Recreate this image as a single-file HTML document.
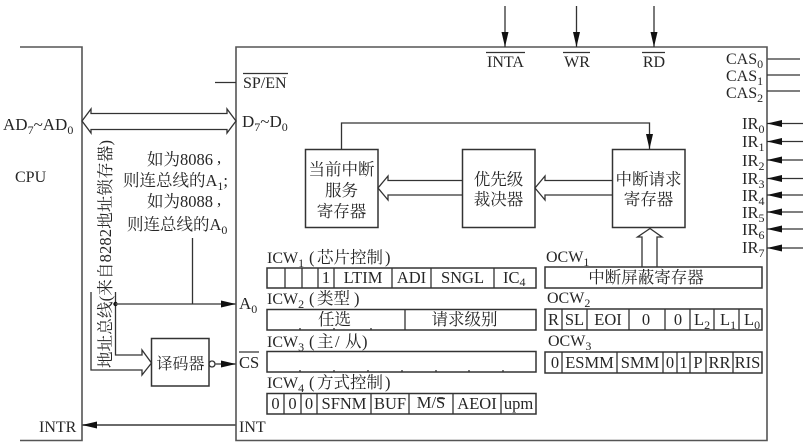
<!DOCTYPE html>
<html><head><meta charset="utf-8"><style>
html,body{margin:0;padding:0;background:#fff}
svg{display:block}
text{font-family:"Liberation Serif","Noto Serif CJK SC",serif;fill:#262626;font-size:17px}
.c{font-size:16.5px}
.t{font-size:16.5px}
.h{font-size:16.5px}
.s{font-size:12px}
.l{stroke:#333;stroke-width:1.3;fill:none}
.b{stroke:#333;stroke-width:1.5;fill:none}
.g{stroke:#555;stroke-width:1.6;fill:none}
</style></head><body>
<svg width="809" height="446" viewBox="0 0 809 446" xmlns="http://www.w3.org/2000/svg">
<defs>
<marker id="a" markerUnits="userSpaceOnUse" markerWidth="15" markerHeight="8" refX="15" refY="4" orient="auto"><path d="M0 0.500L15 4L0 7.500z" fill="#111"/></marker>
</defs>
<!-- main frames -->
<path class="g" d="M20 47H82V440.500H20"/>
<path class="g" d="M767 440.500H236V47H767Z"/>
<path class="l" d="M215 82.500H236"/>
<!-- data bus -->
<path class="l" d="M82 121L91 109V113.500H227V109L236 121L227 133V129.500H91V133Z"/>
<!-- labels left -->
<text x="3" y="130">AD<tspan class="s" dy="4">7</tspan><tspan dy="-4">~AD</tspan><tspan class="s" dy="4">0</tspan></text>
<text x="15" y="182" style="font-size:16px">CPU</text>
<text x="243" y="88" style="font-size:16px">SP/EN</text>
<path class="l" d="M243 73.500H288"/>
<text x="242" y="127">D<tspan class="s" dy="4">7</tspan><tspan dy="-4">~D</tspan><tspan class="s" dy="4">0</tspan></text>
<text x="239" y="309">A<tspan class="s" dy="4">0</tspan></text>
<text x="239" y="368" style="font-size:16.5px">CS</text>
<path class="l" d="M239 352H259"/>
<text x="239" y="432" style="font-size:16px">INT</text>
<text x="39" y="432" style="font-size:16px">INTR</text>
<!-- notes -->
<text class="c" x="147" y="165">如为8086</text><text class="c" x="217" y="163">,</text>
<text class="c" x="123" y="186">则连总线的A<tspan class="s" dy="4">1</tspan><tspan dy="-4">;</tspan></text>
<text class="c" x="147" y="207">如为8088</text><text class="c" x="217" y="205">,</text>
<text class="c" x="127" y="230">则连总线的A<tspan class="s" dy="4">0</tspan></text>
<text class="c" transform="translate(111,368) rotate(-90)" textLength="228" lengthAdjust="spacing">地址总线(来自8282地址锁存器)</text>
<!-- address bus -->
<path class="l" d="M91 292V370H142V375L151.500 363L142 350V355H115.500V292"/>
<circle cx="115.500" cy="304" r="2.200" fill="#111"/>
<path class="g" d="M115.500 304H236" marker-end="url(#a)"/>
<path class="l" d="M192.500 238V304"/>
<rect class="b" x="151.500" y="338.500" width="57.500" height="47.500"/>
<text x="156.500" y="369" style="font-size:16px">译码器</text>
<circle class="l" cx="212" cy="364" r="3"/>
<path class="g" d="M215 364H236" marker-end="url(#a)"/>
<path class="g" d="M236 425H82" marker-end="url(#a)" style="stroke-width:1.8"/>
<!-- top pins -->
<path class="l" d="M505 6V47" marker-end="url(#a)"/>
<path class="l" d="M576.500 6V47" marker-end="url(#a)"/>
<path class="l" d="M654 6V47" marker-end="url(#a)"/>
<text x="505.500" y="67" text-anchor="middle" style="font-size:16px">INTA</text><path class="l" d="M486 52.500H525"/>
<text x="577" y="67" text-anchor="middle" style="font-size:16px">WR</text><path class="l" d="M563 52.500H590"/>
<text x="654" y="67" text-anchor="middle" style="font-size:16px">RD</text><path class="l" d="M642 52.500H665"/>
<!-- CAS -->
<path class="g" d="M767 59H800"/><path class="l" d="M767 75H800M767 91H800"/>
<text x="726" y="64" style="font-size:16px">CAS<tspan class="s" dy="4">0</tspan></text>
<text x="726" y="81" style="font-size:16px">CAS<tspan class="s" dy="4">1</tspan></text>
<text x="726" y="98" style="font-size:16px">CAS<tspan class="s" dy="4">2</tspan></text>
<!-- IR -->
<g>
<path class="l" d="M803 123.500H767" marker-end="url(#a)"/>
<path class="l" d="M803 141.500H767" marker-end="url(#a)"/>
<path class="l" d="M803 160H767" marker-end="url(#a)"/>
<path class="l" d="M803 178.500H767" marker-end="url(#a)"/>
<path class="l" d="M803 195H767" marker-end="url(#a)"/>
<path class="l" d="M803 212H767" marker-end="url(#a)"/>
<path class="l" d="M803 229H767" marker-end="url(#a)"/>
<path class="l" d="M803 248H767" marker-end="url(#a)"/>
</g>
<text x="742" y="129" style="font-size:16.5px">IR<tspan class="s" dy="4">0</tspan></text>
<text x="742" y="147" style="font-size:16.5px">IR<tspan class="s" dy="4">1</tspan></text>
<text x="742" y="166" style="font-size:16.5px">IR<tspan class="s" dy="4">2</tspan></text>
<text x="742" y="184" style="font-size:16.5px">IR<tspan class="s" dy="4">3</tspan></text>
<text x="742" y="201" style="font-size:16.5px">IR<tspan class="s" dy="4">4</tspan></text>
<text x="742" y="218" style="font-size:16.5px">IR<tspan class="s" dy="4">5</tspan></text>
<text x="742" y="235" style="font-size:16.5px">IR<tspan class="s" dy="4">6</tspan></text>
<text x="742" y="253" style="font-size:16.5px">IR<tspan class="s" dy="4">7</tspan></text>
<!-- blocks -->
<rect class="b" x="305.500" y="149.500" width="72.500" height="78"/>
<rect class="b" x="462.500" y="149.500" width="72.500" height="78"/>
<rect class="b" x="612.500" y="149.500" width="72.500" height="78"/>
<text x="341.500" y="175" text-anchor="middle" style="font-size:16.500px">当前中断</text>
<text x="341.500" y="196" text-anchor="middle" style="font-size:16.500px">服务</text>
<text x="341.500" y="217" text-anchor="middle" style="font-size:16.500px">寄存器</text>
<text x="498.500" y="185" text-anchor="middle" style="font-size:16.500px">优先级</text>
<text x="498.500" y="205" text-anchor="middle" style="font-size:16.500px">裁决器</text>
<text x="648.500" y="185" text-anchor="middle" style="font-size:16.500px">中断请求</text>
<text x="648.500" y="205" text-anchor="middle" style="font-size:16.500px">寄存器</text>
<path class="l" d="M341.500 149V123H649.500V149" marker-end="url(#a)"/>
<path class="l" d="M462 180.500H388V176L378 188L388 200V195H462"/>
<path class="l" d="M612 180.500H545V176L535 188L545 200V195H612"/>
<path class="l" d="M642 267V237H637.500L650 228.500L662 237H657V267"/>
<!-- ICW1 -->
<text x="267" y="263" style="font-size:16px">ICW<tspan class="s" dy="4">1</tspan></text>
<text class="h" x="309" y="263">(</text><text class="h" x="317" y="263">芯片控制</text><text class="h" x="385" y="263">)</text>
<rect class="b" x="267" y="268" width="269" height="20"/>
<path class="l" d="M285 268V288M302 268V288M318 268V288M334 268V288M392 268V288M431 268V288M494 268V288"/>
<text class="t" x="326" y="283" text-anchor="middle">1</text>
<text class="t" x="363" y="283" text-anchor="middle">LTIM</text>
<text class="t" x="411.500" y="283" text-anchor="middle">ADI</text>
<text class="t" x="462.500" y="283" text-anchor="middle">SNGL</text>
<text class="t" x="503" y="283">IC<tspan class="s" dy="3">4</tspan></text>
<!-- ICW2 -->
<text x="267" y="304" style="font-size:16px">ICW<tspan class="s" dy="4">2</tspan></text>
<text class="h" x="309" y="304">(</text><text class="h" x="317" y="304">类型</text><text class="h" x="354" y="304">)</text>
<rect class="b" x="267" y="309.500" width="269" height="20.500"/>
<path class="l" d="M405 309.500V330M300 328V330M334 328V330M371 328V330"/>
<text class="t" x="334.500" y="325" text-anchor="middle">任选</text>
<text class="t" x="464.500" y="325" text-anchor="middle">请求级别</text>
<!-- ICW3 -->
<text x="267" y="347" style="font-size:16px">ICW<tspan class="s" dy="4">3</tspan></text>
<text class="h" x="309" y="347">(</text><text class="h" x="317" y="347">主</text><text class="h" x="335" y="347">/</text><text class="h" x="345" y="347">从</text><text class="h" x="362" y="347">)</text>
<rect class="b" x="267" y="351.500" width="269" height="20.500"/>
<path class="l" d="M300 370V372M334 370V372M368 370V372M402 370V372M436 370V372M469 370V372M503 370V372"/>
<!-- ICW4 -->
<text x="267" y="388" style="font-size:16px">ICW<tspan class="s" dy="4">4</tspan></text>
<text class="h" x="309" y="388">(</text><text class="h" x="317" y="388">方式控制</text><text class="h" x="385" y="388">)</text>
<rect class="b" x="267" y="393.500" width="269" height="20.500"/>
<path class="l" d="M284 393.500V414M301 393.500V414M317 393.500V414M371 393.500V414M409 393.500V414M453 393.500V414M501 393.500V414"/>
<text class="t" x="275.500" y="409" text-anchor="middle">0</text>
<text class="t" x="292.500" y="409" text-anchor="middle">0</text>
<text class="t" x="309" y="409" text-anchor="middle">0</text>
<text class="t" x="344" y="409" text-anchor="middle">SFNM</text>
<text class="t" x="390" y="409" text-anchor="middle">BUF</text>
<text class="t" x="431" y="408" text-anchor="middle">M/S</text>
<path class="l" d="M437 398.500H445"/>
<text class="t" x="477" y="409" text-anchor="middle">AEOI</text>
<text class="t" x="518.500" y="409" text-anchor="middle">upm</text>
<!-- OCW1 -->
<text x="546" y="262" style="font-size:16px">OCW<tspan class="s" dy="4">1</tspan></text>
<rect class="b" x="545" y="267" width="217" height="21"/>
<text class="t" x="646" y="283" text-anchor="middle">中断屏蔽寄存器</text>
<!-- OCW2 -->
<text x="547" y="303" style="font-size:16px">OCW<tspan class="s" dy="4">2</tspan></text>
<rect class="b" x="545" y="309" width="217" height="21"/>
<path class="l" d="M562 309V330M587 309V330M629 309V330M665 309V330M690 309V330M714 309V330M739 309V330"/>
<text class="t" x="553.500" y="325" text-anchor="middle">R</text>
<text class="t" x="574.500" y="325" text-anchor="middle">SL</text>
<text class="t" x="608" y="325" text-anchor="middle">EOI</text>
<text class="t" x="646" y="325" text-anchor="middle">0</text>
<text class="t" x="678" y="325" text-anchor="middle">0</text>
<text class="t" x="694" y="325">L<tspan class="s" dy="4">2</tspan></text>
<text class="t" x="720" y="325">L<tspan class="s" dy="4">1</tspan></text>
<text class="t" x="744" y="325">L<tspan class="s" dy="4">0</tspan></text>
<!-- OCW3 -->
<text x="548" y="346" style="font-size:16px">OCW<tspan class="s" dy="4">3</tspan></text>
<rect class="b" x="545" y="352" width="217" height="21"/>
<path class="l" d="M562 352V373M617 352V373M663 352V373M677 352V373M690 352V373M706 352V373M733 352V373"/>
<text class="t" x="555" y="368" text-anchor="middle">0</text>
<text class="t" x="589.500" y="368" text-anchor="middle">ESMM</text>
<text class="t" x="640" y="368" text-anchor="middle">SMM</text>
<text class="t" x="670" y="368" text-anchor="middle">0</text>
<text class="t" x="683.500" y="368" text-anchor="middle">1</text>
<text class="t" x="698" y="368" text-anchor="middle">P</text>
<text class="t" x="719.500" y="368" text-anchor="middle">RR</text>
<text class="t" x="747.500" y="368" text-anchor="middle">RIS</text>
</svg>
</body></html>
